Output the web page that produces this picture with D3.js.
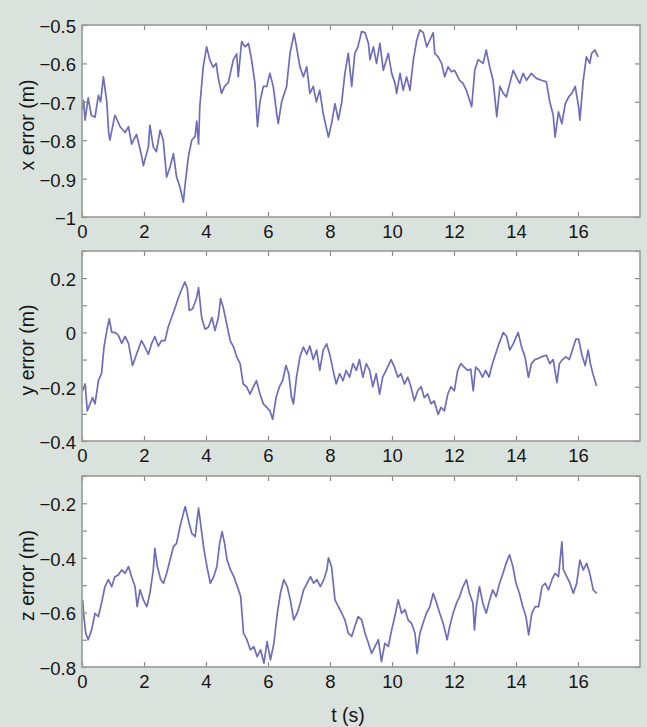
<!DOCTYPE html>
<html><head><meta charset="utf-8">
<script src="https://cdn.jsdelivr.net/npm/d3@7"></script>
<style>
body{margin:0;background:#dae2de;}
svg{display:block;}
text{font-family:"Liberation Sans",Arial,sans-serif;fill:#151515;}
</style></head><body>
<svg id="c" width="647" height="727"></svg>
<script>
// ---------- data ----------
const timeTicks = [0,2,4,6,8,10,12,14,16];

const tX = [0,0.05,0.1,0.2,0.3,0.42,0.53,0.6,0.69,0.8,0.86,0.9,1.06,1.15,1.23,1.39,1.5,1.6,1.76,1.92,1.98,2.14,2.19,2.3,2.4,2.52,2.62,2.73,2.84,2.95,3.05,3.16,3.27,3.32,3.43,3.54,3.65,3.7,3.76,3.8,3.91,4.02,4.12,4.23,4.33,4.39,4.5,4.6,4.72,4.88,4.99,5.04,5.15,5.26,5.37,5.47,5.58,5.66,5.74,5.85,5.96,6.06,6.17,6.28,6.33,6.44,6.6,6.71,6.84,6.92,7.03,7.14,7.25,7.35,7.46,7.56,7.67,7.78,7.95,8.05,8.16,8.27,8.38,8.48,8.59,8.7,8.8,8.9,9.02,9.13,9.24,9.29,9.4,9.5,9.61,9.72,9.88,9.99,10.1,10.15,10.26,10.36,10.47,10.58,10.69,10.8,10.9,11.01,11.12,11.22,11.33,11.38,11.49,11.6,11.7,11.81,11.92,12.02,12.18,12.29,12.4,12.57,12.67,12.78,12.94,13.04,13.15,13.26,13.38,13.48,13.59,13.69,13.8,13.91,14.01,14.12,14.23,14.34,14.49,14.66,14.82,14.98,15.09,15.2,15.26,15.37,15.48,15.59,15.7,15.8,15.91,16.02,16.06,16.17,16.27,16.38,16.44,16.54,16.65];
const xErr = [-0.722,-0.696,-0.748,-0.69,-0.735,-0.74,-0.683,-0.70,-0.635,-0.70,-0.78,-0.80,-0.735,-0.75,-0.765,-0.78,-0.765,-0.81,-0.785,-0.84,-0.866,-0.818,-0.761,-0.818,-0.83,-0.774,-0.80,-0.896,-0.87,-0.835,-0.896,-0.922,-0.961,-0.92,-0.844,-0.80,-0.79,-0.75,-0.81,-0.713,-0.609,-0.557,-0.59,-0.61,-0.60,-0.635,-0.678,-0.66,-0.65,-0.591,-0.575,-0.635,-0.543,-0.557,-0.548,-0.59,-0.652,-0.765,-0.70,-0.66,-0.66,-0.626,-0.66,-0.731,-0.757,-0.70,-0.66,-0.574,-0.522,-0.557,-0.609,-0.635,-0.609,-0.678,-0.66,-0.70,-0.67,-0.731,-0.792,-0.757,-0.705,-0.747,-0.70,-0.626,-0.574,-0.66,-0.574,-0.557,-0.517,-0.52,-0.548,-0.59,-0.557,-0.6,-0.548,-0.618,-0.574,-0.626,-0.652,-0.678,-0.626,-0.67,-0.635,-0.67,-0.59,-0.539,-0.513,-0.52,-0.557,-0.539,-0.52,-0.574,-0.583,-0.6,-0.635,-0.609,-0.622,-0.618,-0.644,-0.652,-0.67,-0.713,-0.618,-0.59,-0.6,-0.565,-0.609,-0.644,-0.739,-0.66,-0.678,-0.687,-0.652,-0.618,-0.635,-0.652,-0.626,-0.644,-0.626,-0.639,-0.644,-0.648,-0.70,-0.735,-0.792,-0.726,-0.757,-0.705,-0.687,-0.678,-0.66,-0.713,-0.748,-0.644,-0.583,-0.6,-0.574,-0.565,-0.583];

const tY = [0.02,0.1,0.17,0.26,0.34,0.42,0.53,0.63,0.71,0.8,0.88,0.96,1.06,1.17,1.28,1.39,1.5,1.63,1.76,1.92,2.03,2.14,2.25,2.35,2.46,2.57,2.68,2.78,2.89,3.0,3.11,3.22,3.32,3.4,3.46,3.57,3.7,3.76,3.86,3.97,4.08,4.19,4.29,4.4,4.47,4.56,4.67,4.78,4.89,4.99,5.1,5.2,5.31,5.42,5.53,5.63,5.74,5.85,5.96,6.06,6.15,6.26,6.37,6.47,6.58,6.67,6.76,6.82,6.92,7.03,7.14,7.25,7.35,7.46,7.57,7.67,7.78,7.89,7.99,8.1,8.2,8.31,8.42,8.52,8.63,8.74,8.85,8.95,9.06,9.17,9.28,9.38,9.49,9.6,9.7,9.81,9.97,10.08,10.19,10.29,10.4,10.51,10.61,10.72,10.83,10.94,11.04,11.15,11.26,11.36,11.49,11.58,11.69,11.8,11.9,12.01,12.12,12.22,12.33,12.44,12.54,12.62,12.7,12.81,12.92,13.02,13.13,13.24,13.34,13.45,13.59,13.7,13.8,13.91,14.07,14.18,14.29,14.4,14.5,14.61,14.72,14.82,14.98,15.09,15.2,15.32,15.4,15.5,15.61,15.72,15.82,15.93,16.02,16.12,16.23,16.33,16.4,16.48,16.6];
const yErr = [-0.215,-0.19,-0.289,-0.263,-0.24,-0.263,-0.178,-0.152,-0.054,0.007,0.05,0.0,0.0,-0.01,-0.04,-0.015,-0.04,-0.122,-0.08,-0.03,-0.054,-0.08,-0.04,-0.015,-0.05,-0.03,-0.03,0.02,0.055,0.09,0.128,0.16,0.186,0.16,0.081,0.087,0.128,0.165,0.055,0.012,0.02,0.055,0.007,0.055,0.125,0.09,0.03,-0.03,-0.054,-0.09,-0.115,-0.19,-0.2,-0.227,-0.2,-0.178,-0.227,-0.263,-0.276,-0.289,-0.32,-0.24,-0.2,-0.178,-0.122,-0.152,-0.24,-0.263,-0.165,-0.09,-0.054,-0.08,-0.05,-0.1,-0.065,-0.14,-0.065,-0.042,-0.08,-0.14,-0.19,-0.152,-0.178,-0.14,-0.165,-0.115,-0.14,-0.1,-0.165,-0.115,-0.14,-0.2,-0.152,-0.227,-0.165,-0.14,-0.1,-0.128,-0.165,-0.152,-0.19,-0.165,-0.2,-0.252,-0.215,-0.2,-0.24,-0.227,-0.263,-0.252,-0.302,-0.276,-0.289,-0.227,-0.2,-0.215,-0.14,-0.115,-0.128,-0.14,-0.135,-0.215,-0.128,-0.14,-0.165,-0.14,-0.165,-0.115,-0.08,-0.042,0.0,-0.015,-0.065,-0.042,0.0,-0.054,-0.09,-0.165,-0.115,-0.1,-0.096,-0.09,-0.084,-0.115,-0.1,-0.185,-0.115,-0.1,-0.09,-0.1,-0.065,-0.025,-0.025,-0.08,-0.122,-0.065,-0.115,-0.152,-0.197];

const tZ = [0.02,0.06,0.12,0.2,0.31,0.42,0.53,0.63,0.74,0.85,0.96,1.06,1.17,1.28,1.39,1.5,1.6,1.71,1.78,1.87,1.98,2.09,2.19,2.3,2.35,2.43,2.54,2.63,2.73,2.84,2.95,3.05,3.16,3.27,3.33,3.43,3.54,3.65,3.76,3.81,3.92,4.03,4.14,4.25,4.35,4.44,4.52,4.6,4.68,4.79,4.9,5.01,5.12,5.21,5.32,5.43,5.54,5.65,5.76,5.87,5.97,6.08,6.19,6.3,6.4,6.51,6.62,6.72,6.83,6.94,7.04,7.15,7.26,7.37,7.47,7.58,7.69,7.8,7.9,7.95,8.05,8.16,8.27,8.38,8.48,8.59,8.7,8.8,8.91,9.02,9.13,9.24,9.34,9.45,9.56,9.66,9.77,9.88,9.99,10.09,10.2,10.31,10.42,10.52,10.63,10.74,10.81,10.9,11.0,11.11,11.22,11.33,11.44,11.54,11.65,11.78,11.86,11.97,12.08,12.18,12.29,12.4,12.5,12.61,12.66,12.72,12.82,12.93,13.04,13.15,13.25,13.36,13.47,13.58,13.68,13.79,13.9,14.0,14.11,14.22,14.32,14.41,14.51,14.62,14.73,14.84,14.94,15.05,15.16,15.26,15.37,15.48,15.53,15.64,15.74,15.85,15.96,16.06,16.17,16.28,16.38,16.49,16.6];
const zErr = [-0.554,-0.615,-0.676,-0.70,-0.664,-0.603,-0.615,-0.566,-0.505,-0.48,-0.505,-0.469,-0.463,-0.444,-0.457,-0.432,-0.469,-0.505,-0.579,-0.517,-0.554,-0.579,-0.53,-0.444,-0.365,-0.432,-0.48,-0.493,-0.457,-0.408,-0.359,-0.347,-0.286,-0.237,-0.212,-0.261,-0.31,-0.322,-0.218,-0.261,-0.359,-0.432,-0.493,-0.469,-0.432,-0.347,-0.304,-0.347,-0.408,-0.444,-0.469,-0.505,-0.542,-0.676,-0.70,-0.737,-0.725,-0.762,-0.737,-0.786,-0.707,-0.774,-0.713,-0.603,-0.53,-0.48,-0.505,-0.554,-0.627,-0.603,-0.566,-0.517,-0.493,-0.469,-0.493,-0.48,-0.505,-0.48,-0.444,-0.40,-0.432,-0.554,-0.579,-0.603,-0.627,-0.676,-0.688,-0.652,-0.615,-0.627,-0.676,-0.713,-0.75,-0.725,-0.70,-0.78,-0.713,-0.725,-0.664,-0.615,-0.554,-0.603,-0.59,-0.627,-0.64,-0.676,-0.75,-0.676,-0.64,-0.603,-0.579,-0.53,-0.566,-0.603,-0.64,-0.70,-0.652,-0.603,-0.566,-0.542,-0.505,-0.48,-0.53,-0.566,-0.664,-0.579,-0.505,-0.566,-0.603,-0.554,-0.517,-0.542,-0.493,-0.457,-0.42,-0.389,-0.432,-0.493,-0.53,-0.579,-0.615,-0.682,-0.603,-0.579,-0.579,-0.505,-0.493,-0.517,-0.48,-0.457,-0.469,-0.341,-0.444,-0.469,-0.493,-0.53,-0.493,-0.408,-0.444,-0.42,-0.457,-0.517,-0.53];

const xErrTicks = [-1,-0.9,-0.8,-0.7,-0.6,-0.5];
const xErrLabels = [-1,-0.9,-0.8,-0.7,-0.6,-0.5];
const yErrTicks = [-0.4,-0.3,-0.2,-0.1,0,0.1,0.2,0.3];
const yErrLabels = [-0.4,-0.2,0,0.2];
const zErrTicks = [-0.8,-0.7,-0.6,-0.5,-0.4,-0.3,-0.2,-0.1];
const zErrLabels = [-0.8,-0.6,-0.4,-0.2];
const yTitles = ["x error (m)","y error (m)","z error (m)"];
const xTitle = "t (s)";

// ---------- layout ----------
const FONT = "'Liberation Sans',Arial,sans-serif";
const svg = d3.select("#c");
const L = 82, R = 640;
const panels = [
  {t:tX, v:xErr, ticks:xErrTicks, labels:xErrLabels, title:yTitles[0], top:25, bottom:217},
  {t:tY, v:yErr, ticks:yErrTicks, labels:yErrLabels, title:yTitles[1], top:251, bottom:441},
  {t:tZ, v:zErr, ticks:zErrTicks, labels:zErrLabels, title:yTitles[2], top:476, bottom:667}
];
const x = d3.scaleLinear().domain([0,18]).range([L,R]);
const fmt = v => (v < 0 ? "\u2212" : "") + String(Math.abs(v));

panels.forEach((p,i) => {
  const y = d3.scaleLinear().domain(d3.extent(p.ticks)).range([p.bottom,p.top]);
  const g = svg.append("g");
  g.append("rect").attr("x",L).attr("y",p.top).attr("width",R-L).attr("height",p.bottom-p.top)
    .attr("fill","#ffffff");
  const clipId = "clip"+i;
  svg.append("clipPath").attr("id",clipId).append("rect")
    .attr("x",L).attr("y",p.top).attr("width",R-L).attr("height",p.bottom-p.top);
  const data = p.t.map((t,k)=>[t,p.v[k]]);
  g.append("path").datum(data)
    .attr("clip-path","url(#"+clipId+")")
    .attr("fill","none").attr("stroke","#6d6dba").attr("stroke-width",1.7)
    .attr("stroke-linejoin","round")
    .attr("d", d3.line().x(d=>x(d[0])).y(d=>y(d[1])));

  const lab = new Set(p.labels.map(v=>v.toFixed(2)));
  const tf = v => lab.has(v.toFixed(2)) ? fmt(v) : "";
  const ax = g.append("g").attr("transform",`translate(${L},0)`)
    .call(d3.axisLeft(y).tickValues(p.ticks).tickFormat(tf).tickSizeInner(-5).tickSizeOuter(0).tickPadding(6));
  const axr = g.append("g").attr("transform",`translate(${R},0)`)
    .call(d3.axisRight(y).tickValues(p.ticks).tickFormat("").tickSizeInner(-5).tickSizeOuter(0));
  const axb = g.append("g").attr("transform",`translate(0,${p.bottom})`)
    .call(d3.axisBottom(x).tickValues(timeTicks).tickFormat(d3.format("d")).tickSizeInner(-5).tickSizeOuter(0).tickPadding(6));
  const axt = g.append("g").attr("transform",`translate(0,${p.top})`)
    .call(d3.axisTop(x).tickValues(timeTicks).tickFormat("").tickSizeInner(-5).tickSizeOuter(0));
  [ax,axr,axb,axt].forEach(a=>{
    a.select(".domain").remove();
    a.selectAll(".tick line").attr("stroke","#8a8a8a").attr("stroke-width",1.2);
    a.selectAll("text").attr("font-size",18.5).attr("fill","#151515")
      .attr("font-family",FONT);
  });
  ax.selectAll("text").attr("dy","0.4em");
  axb.selectAll("text").attr("dy","0.82em");
  g.append("rect").attr("x",L).attr("y",p.top).attr("width",R-L).attr("height",p.bottom-p.top)
    .attr("fill","none").attr("stroke","#9a9a9a").attr("stroke-width",1.6);
  g.append("text")
    .attr("transform",`translate(27,${(p.top+p.bottom)/2+4}) rotate(-90)`)
    .attr("text-anchor","middle").attr("dy","0.35em").attr("font-size",19.5)
    .attr("font-family",FONT)
    .text(p.title);
});

svg.append("text").attr("x",348).attr("y",722).attr("text-anchor","middle")
  .attr("font-size",19.5).attr("font-family",FONT).text(xTitle);
</script>
</body></html>
